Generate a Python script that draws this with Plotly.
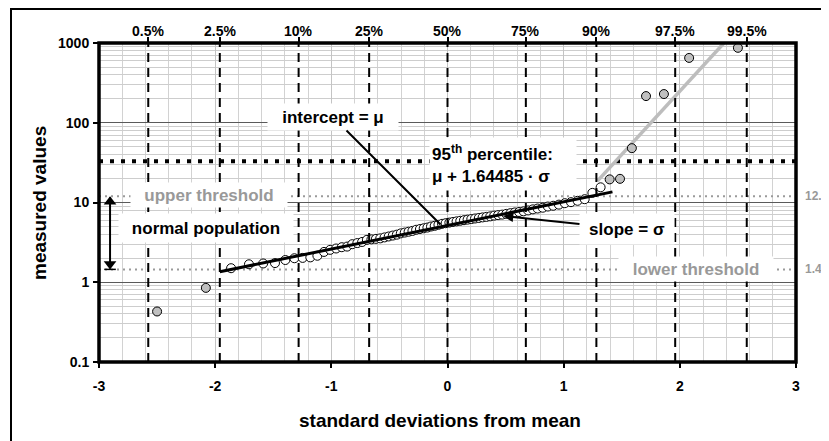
import math
import plotly.graph_objects as go

# ---------------- data ----------------
# normal scores (standard deviations from mean) and measured values
lower_out_z = [-2.500, -2.080]
lower_out_v = [0.43, 0.85]

normal_z = [-1.863, -1.709, -1.587, -1.485, -1.396, -1.318, -1.247, -1.181, -1.120, -1.063,
            -1.010, -0.959, -0.910, -0.864, -0.820, -0.776, -0.735, -0.694, -0.655, -0.616,
            -0.579, -0.542, -0.506, -0.471, -0.436, -0.402, -0.368, -0.335, -0.302, -0.270,
            -0.237, -0.205, -0.173, -0.142, -0.110, -0.078, -0.047, -0.016,
            0.016, 0.047, 0.078, 0.110, 0.142, 0.173, 0.205, 0.237, 0.270, 0.302,
            0.335, 0.368, 0.402, 0.436, 0.471, 0.506, 0.542, 0.579, 0.616, 0.655,
            0.694, 0.735, 0.776, 0.820, 0.864, 0.910, 0.959, 1.010, 1.063, 1.120,
            1.181, 1.247, 1.318]
normal_v = [1.50, 1.68, 1.72, 1.74, 1.90, 2.00, 2.02, 2.05, 2.15, 2.40,
            2.55, 2.65, 2.75, 2.80, 3.00, 3.10, 3.20, 3.40, 3.45, 3.50,
            3.55, 3.65, 3.75, 3.85, 3.95, 4.10, 4.20, 4.30, 4.40, 4.55,
            4.65, 4.75, 4.85, 5.00, 5.10, 5.25, 5.40, 5.50,
            5.60, 5.70, 5.80, 5.90, 6.00, 6.10, 6.20, 6.30, 6.40, 6.50,
            6.60, 6.70, 6.85, 6.95, 7.05, 7.20, 7.35, 7.50, 7.60, 7.75,
            7.95, 8.20, 8.40, 8.60, 8.90, 9.10, 9.40, 9.80, 10.1, 10.5,
            11.0, 13.2, 15.5]

upper_out_z = [1.396, 1.485, 1.587, 1.709, 1.863, 2.080, 2.500]
upper_out_v = [19.5, 19.8, 48.0, 216.0, 229.0, 650.0, 870.0]

fit_z = [-1.96, 1.42]
fit_v = [1.355, 13.6]

tail_z = [1.29, 2.38]
tail_v = [18.5, 1000.0]

pct_z = [-2.576, -1.960, -1.2816, -0.6745, 0.0, 0.6745, 1.2816, 1.960, 2.576]
pct_labels = ["0.5%", "2.5%", "10%", "25%", "50%", "75%", "90%", "97.5%", "99.5%"]

x_ticks = [-3, -2, -1, 0, 1, 2, 3]
y_ticks = [0.1, 1, 10, 100, 1000]
y_tick_labels = ["0.1", "1", "10", "100", "1000"]

p95_value = 33.0
upper_threshold = 12.00
lower_threshold = 1.45

# ---------------- layout geometry (screen pixels) ----------------
W, H = 829, 441
L, R, T, B = 99, 796, 43, 362      # plot area as it should appear on screen
OFF = 8                            # default page body margin that shifts the figure
FONT = "Liberation Sans, Arial, sans-serif"
DEC = (B - T) / 4.0  # pixels per decade


def pxx(x):
    return (x - L) / (R - L)


def pxy(y):
    return (B - y) / (B - T)


fig = go.Figure()

# percentile dashed verticals (on top axis)
for z in pct_z:
    fig.add_trace(go.Scatter(x=[z, z], y=[0.1, 1000], mode="lines", xaxis="x2",
                             line=dict(color="black", width=2, dash="9px,6px"),
                             hoverinfo="skip", showlegend=False))

# 95th percentile line (big black dots)
fig.add_trace(go.Scatter(x=[-3, 3], y=[p95_value, p95_value], mode="lines",
                         line=dict(color="black", width=4, dash="4px,7px"),
                         hoverinfo="skip", showlegend=False))
# thresholds (gray dots)
for v in (upper_threshold, lower_threshold):
    fig.add_trace(go.Scatter(x=[-3, 3], y=[v, v], mode="lines",
                             line=dict(color="#9a9a9a", width=2, dash="2px,4px"),
                             hoverinfo="skip", showlegend=False))

# upper tail line (gray)
fig.add_trace(go.Scatter(x=tail_z, y=tail_v, mode="lines",
                         line=dict(color="#bdbdbd", width=3.5),
                         hoverinfo="skip", showlegend=False))

marker_line = dict(color="black", width=1)
fig.add_trace(go.Scatter(x=normal_z, y=normal_v, mode="markers",
                         marker=dict(size=9, color="white", line=marker_line),
                         showlegend=False))
fig.add_trace(go.Scatter(x=lower_out_z + upper_out_z, y=lower_out_v + upper_out_v,
                         mode="markers",
                         marker=dict(size=9, color="#c0c0c0", line=marker_line),
                         showlegend=False))

# fitted line
fig.add_trace(go.Scatter(x=fit_z, y=fit_v, mode="lines",
                         line=dict(color="black", width=3),
                         hoverinfo="skip", showlegend=False))

# double-headed arrow spanning the normal population (threshold to threshold)
arrow_z = -2.905
head_off = 10 ** (5.5 / DEC)
fig.add_trace(go.Scatter(x=[arrow_z, arrow_z], y=[upper_threshold * 0.97, lower_threshold * 1.03],
                         mode="lines", line=dict(color="black", width=2),
                         hoverinfo="skip", showlegend=False))
fig.add_trace(go.Scatter(x=[arrow_z, arrow_z],
                         y=[upper_threshold / head_off, lower_threshold * head_off],
                         mode="markers",
                         marker=dict(symbol=["triangle-up", "triangle-down"], size=11,
                                     color="black", line=dict(width=0)),
                         hoverinfo="skip", showlegend=False))
fig.add_trace(go.Scatter(x=[arrow_z - 0.05, arrow_z + 0.05],
                         y=[lower_threshold, lower_threshold], mode="lines",
                         line=dict(color="black", width=1.5),
                         hoverinfo="skip", showlegend=False))

minor_y = [m * 10 ** k for k in (-1, 0, 1, 2) for m in range(2, 10)]

bold14 = dict(family=FONT, size=14, color="black", weight="bold")

fig.update_layout(
    width=W, height=H, autosize=False,
    margin=dict(l=L - OFF, r=W - (R - OFF), t=T - OFF, b=H - (B - OFF), pad=0),
    paper_bgcolor="white", plot_bgcolor="white",
    font=dict(family=FONT, color="black"),
    showlegend=False,
    xaxis=dict(range=[-3, 3], tickvals=x_ticks, ticktext=[str(t) for t in x_ticks],
               tickfont=bold14, ticks="outside", ticklen=5, tickwidth=1.5, tickcolor="black",
               ticklabelstandoff=6,
               showgrid=True, gridcolor="#c4c4c4", gridwidth=1, zeroline=False,
               showline=False,
               minor=dict(dtick=0.2, showgrid=True, gridcolor="#d2d2d2", gridwidth=1, ticks="")),
    xaxis2=dict(range=[-3, 3], overlaying="x", side="top", tickvals=pct_z,
                showticklabels=False,
                ticks="outside", ticklen=5, tickwidth=1.5, tickcolor="black",
                showgrid=False, zeroline=False, showline=False),
    yaxis=dict(type="log", range=[-1, 3], tickvals=y_ticks, ticktext=y_tick_labels,
               tickfont=bold14, ticks="outside", ticklen=5, tickwidth=1.5, tickcolor="black",
               ticklabelstandoff=1,
               showgrid=True, gridcolor="#5a5a5a", gridwidth=1, zeroline=False, showline=False,
               minor=dict(tickvals=minor_y, showgrid=True, gridcolor="#cdcdcd", gridwidth=1, ticks="")),
)

shapes = [
    # plot frame
    dict(type="rect", xref="paper", yref="paper", x0=0, x1=1, y0=0, y1=1,
         line=dict(color="black", width=3.5), layer="above"),
    # outer frame
    dict(type="rect", xref="paper", yref="paper", x0=pxx(11), x1=pxx(845), y0=pxy(460), y1=pxy(9),
         line=dict(color="black", width=2), layer="above"),
]
fig.update_layout(shapes=shapes)

b17 = dict(family=FONT, size=17, color="black", weight="bold")
g17 = dict(family=FONT, size=17, color="#999999", weight="bold")
g12 = dict(family=FONT, size=12, color="#999999", weight="bold")
CM = dict(xanchor="center", yanchor="middle")

ann = []
# axis titles
ann.append(dict(xref="paper", yref="paper", x=pxx(440), y=pxy(420), text="standard deviations from mean",
                showarrow=False, font=dict(family=FONT, size=19, color="black", weight="bold"), **CM))
ann.append(dict(xref="paper", yref="paper", x=pxx(40), y=pxy(203), text="measured values", textangle=-90,
                showarrow=False, font=dict(family=FONT, size=19, color="black", weight="bold"), **CM))
# percentile labels on top
for z, lab in zip(pct_z, pct_labels):
    ann.append(dict(xref="x2", yref="paper", x=z, y=pxy(31), text=lab, showarrow=False,
                    font=dict(family=FONT, size=14, color="black", weight="bold"), **CM))

# intercept = mu
tip_z, tip_v = -0.06, 5.3
tip_px = L + (tip_z + 3) / 6 * (R - L)
tip_py = B - (math.log10(tip_v) + 1) * DEC
ann.append(dict(xref="x", yref="y", x=tip_z, y=math.log10(tip_v), text="intercept = μ",
                showarrow=True, arrowhead=0, arrowwidth=2, arrowcolor="black",
                ax=333 - tip_px, ay=117 - tip_py, bgcolor="white", width=126, height=22,
                borderpad=2, font=b17))
# slope = sigma
sz, sv = 0.48, 6.75
s_px = L + (sz + 3) / 6 * (R - L)
s_py = B - (math.log10(sv) + 1) * DEC
ann.append(dict(xref="x", yref="y", x=sz, y=math.log10(sv), text="slope = σ",
                showarrow=True, arrowhead=2, arrowsize=1, arrowwidth=2, arrowcolor="black",
                ax=627 - s_px, ay=229 - s_py, bgcolor="white", width=90, height=26,
                borderpad=2, font=b17))
# 95th percentile box
ann.append(dict(xref="paper", yref="paper", x=pxx(503), y=pxy(164),
                text="95<sup>th</sup> percentile:<br>μ + 1.64485 · σ", align="left",
                showarrow=False, bgcolor="white", width=142, height=48, borderpad=2, font=b17, **CM))
# normal population
ann.append(dict(xref="paper", yref="paper", x=pxx(206), y=pxy(228), text="normal population",
                showarrow=False, bgcolor="white", width=170, height=24, borderpad=2, font=b17, **CM))
# thresholds labels
ann.append(dict(xref="paper", yref="paper", x=pxx(209), y=pxy(195), text="upper threshold",
                showarrow=False, bgcolor="white", width=152, height=20, borderpad=2, font=g17, **CM))
ann.append(dict(xref="paper", yref="paper", x=pxx(696), y=pxy(269), text="lower threshold",
                showarrow=False, bgcolor="white", width=150, height=20, borderpad=2, font=g17, **CM))
ann.append(dict(xref="paper", yref="y", x=pxx(803), y=math.log10(upper_threshold),
                text="%.2f" % upper_threshold, xanchor="left", yanchor="middle",
                showarrow=False, font=g12))
ann.append(dict(xref="paper", yref="y", x=pxx(803), y=math.log10(lower_threshold),
                text="%.2f" % lower_threshold, xanchor="left", yanchor="middle",
                showarrow=False, font=g12))

fig.update_layout(annotations=ann)

fig.write_html("out.html")
